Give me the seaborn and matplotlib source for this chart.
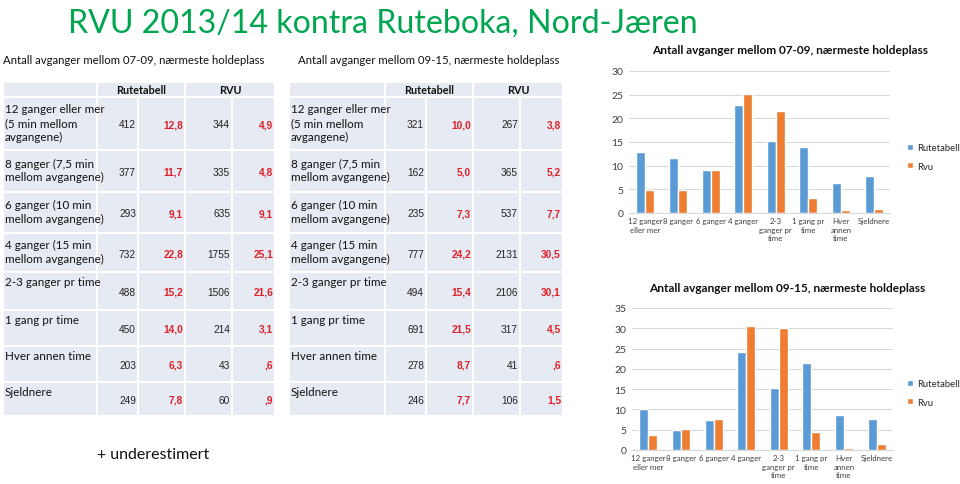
import numpy as np
import pandas as pd
import matplotlib
matplotlib.use("Agg")
import matplotlib.pyplot as plt
import seaborn as sns
from matplotlib.patches import Rectangle

# ---------------- data ----------------
categories = ["12 ganger\neller mer", "8 ganger", "6 ganger", "4 ganger",
              "2-3\nganger pr\ntime", "1 gang pr\ntime", "Hver\nannen\ntime", "Sjeldnere"]
row_labels = ["12 ganger eller mer\n(5 min mellom\navgangene)",
              "8 ganger (7,5 min\nmellom avgangene)",
              "6 ganger (10 min\nmellom avgangene)",
              "4 ganger (15 min\nmellom avgangene)",
              "2-3 ganger pr time", "1 gang pr time", "Hver annen time", "Sjeldnere"]
series_names = ["Rutetabell", "Rvu"]

am_rute_n = [412, 377, 293, 732, 488, 450, 203, 249]
am_rute_pct = [12.8, 11.7, 9.1, 22.8, 15.2, 14.0, 6.3, 7.8]
am_rvu_n = [344, 335, 635, 1755, 1506, 214, 43, 60]
am_rvu_pct = [4.9, 4.8, 9.1, 25.1, 21.6, 3.1, 0.6, 0.9]

day_rute_n = [321, 162, 235, 777, 494, 691, 278, 246]
day_rute_pct = [10.0, 5.0, 7.3, 24.2, 15.4, 21.5, 8.7, 7.7]
day_rvu_n = [267, 365, 537, 2131, 2106, 317, 41, 106]
day_rvu_pct = [3.8, 5.2, 7.7, 30.5, 30.1, 4.5, 0.6, 1.5]

title_main = "RVU 2013/14 kontra Ruteboka, Nord-Jæren"
title_am = "Antall avganger mellom 07-09, nærmeste holdeplass"
title_day = "Antall avganger mellom 09-15, nærmeste holdeplass"
note = "+ underestimert"

# ---------------- style ----------------
sns.set_style("white")
plt.rcParams["font.family"] = ["Lato", "DejaVu Sans"]
BLUE = "#5B9BD5"
ORANGE = "#ED7D31"
GREEN = "#00A54F"
CELL = "#E6EAF2"
RED = "#E0202B"
W, H = 960, 485

fig = plt.figure(figsize=(W / 100, H / 100), dpi=100)
bg = fig.add_axes([0, 0, 1, 1], zorder=0)
bg.set_xlim(0, W)
bg.set_ylim(H, 0)
bg.axis("off")

bg.text(68, 33, title_main, color=GREEN, fontsize=23.1, ha="left", va="baseline")
bg.text(97, 455, note, fontsize=11.5, ha="left", va="center", color="#111111")


def fmt_pct(v):
    s = f"{v:.1f}".replace(".", ",")
    if s.startswith("0,"):
        s = s[1:]
    return s


row_edges = [83, 98, 151, 193, 234, 273, 311, 347, 383, 417]


def draw_table(x_edges, sub_x, subtitle, rute_n, rute_pct, rvu_n, rvu_pct):
    x0 = x_edges[0]
    bg.text(sub_x, 60, subtitle, fontsize=8.2, ha="left", va="center", color="#111111")
    for r in range(len(row_edges) - 1):
        for c in range(len(x_edges) - 1):
            if r == 0 and c > 0:
                continue
            bg.add_patch(Rectangle((x_edges[c], row_edges[r]), x_edges[c + 1] - x_edges[c],
                                   row_edges[r + 1] - row_edges[r], facecolor=CELL,
                                   edgecolor="white", lw=1.5))
    for a, b, lab in [(1, 3, "Rutetabell"), (3, 5, "RVU")]:
        bg.add_patch(Rectangle((x_edges[a], row_edges[0]), x_edges[b] - x_edges[a],
                               row_edges[1] - row_edges[0], facecolor=CELL,
                               edgecolor="white", lw=1.5))
        bg.text((x_edges[a] + x_edges[b]) / 2, (row_edges[0] + row_edges[1]) / 2 + 0.5, lab,
                fontsize=7.8, fontweight="bold", ha="center", va="center", color="#111111")
    for i in range(8):
        top, bot = row_edges[i + 1], row_edges[i + 2]
        mid = (top + bot) / 2
        if i < 4:
            bg.text(x0 + 2, mid - 1, row_labels[i], fontsize=8.4, ha="left", va="center",
                    linespacing=1.3, color="#111111")
        else:
            bg.text(x0 + 2, top + 10, row_labels[i], fontsize=8.4, ha="left", va="center",
                    color="#111111")
        ny = mid + 1
        vals = [(str(rute_n[i]), "#222222", "normal"), (fmt_pct(rute_pct[i]), RED, "bold"),
                (str(rvu_n[i]), "#222222", "normal"), (fmt_pct(rvu_pct[i]), RED, "bold")]
        for c, (txt, col, wt) in enumerate(vals):
            bg.text(x_edges[c + 2] - 2, ny, txt, fontsize=7.3, ha="right", va="center",
                    color=col, fontweight=wt, family=["Liberation Sans", "DejaVu Sans"])


draw_table([3, 97, 138, 185, 232, 275], 3, title_am, am_rute_n, am_rute_pct, am_rvu_n, am_rvu_pct)
draw_table([289, 385, 426, 473, 520, 563], 298, title_day, day_rute_n, day_rute_pct, day_rvu_n, day_rvu_pct)


def draw_chart(px_left, px_right, px_top, px_bottom, rute, rvu, ymax, title, title_xy, leg_y):
    ax = fig.add_axes([px_left / W, 1 - px_bottom / H, (px_right - px_left) / W,
                       (px_bottom - px_top) / H], zorder=2)
    df = pd.DataFrame({
        "kategori": categories * 2,
        "serie": [series_names[0]] * len(categories) + [series_names[1]] * len(categories),
        "prosent": list(rute) + list(rvu),
    })
    sns.barplot(data=df, x="kategori", y="prosent", hue="serie", order=categories,
                hue_order=series_names, palette=[BLUE, ORANGE], saturation=1,
                width=0.55, ax=ax, legend=True)
    ax.set_ylim(0, ymax)
    ax.set_yticks(np.arange(0, ymax + 1, 5))
    ax.yaxis.grid(True, color="#D9D9D9", lw=0.8)
    ax.set_axisbelow(True)
    for s in ["top", "right", "left"]:
        ax.spines[s].set_visible(False)
    ax.spines["bottom"].set_color("#D9D9D9")
    ax.set_xlabel("")
    ax.set_ylabel("")
    ax.tick_params(axis="y", labelsize=7.5, colors="#404040", length=0, pad=4)
    ax.tick_params(axis="x", labelsize=5.7, colors="#404040", length=0, pad=3)
    for lbl in ax.get_xticklabels():
        lbl.set_linespacing(1.25)
    ax.set_xlim(-0.5, len(categories) - 0.5)
    h, l = ax.get_legend_handles_labels()
    ax.legend(h, l, loc="center left", bbox_to_anchor=(907 / W, 1 - leg_y / H),
              bbox_transform=fig.transFigure, frameon=False, fontsize=6.8,
              handlelength=0.6, handleheight=0.6, handletextpad=0.5, labelspacing=1.0,
              borderpad=0, borderaxespad=0)
    fig.text(title_xy[0] / W, 1 - title_xy[1] / H, title, fontsize=8.6, fontweight="bold",
             ha="center", va="center", color="#111111")
    return ax


draw_chart(629, 890, 72, 214, am_rute_pct, am_rvu_pct, 30, title_am, (790, 51), 158)
draw_chart(632, 893, 309, 451, day_rute_pct, day_rvu_pct, 35, title_day, (787, 289), 394)

fig.savefig("out.png", dpi=100)
